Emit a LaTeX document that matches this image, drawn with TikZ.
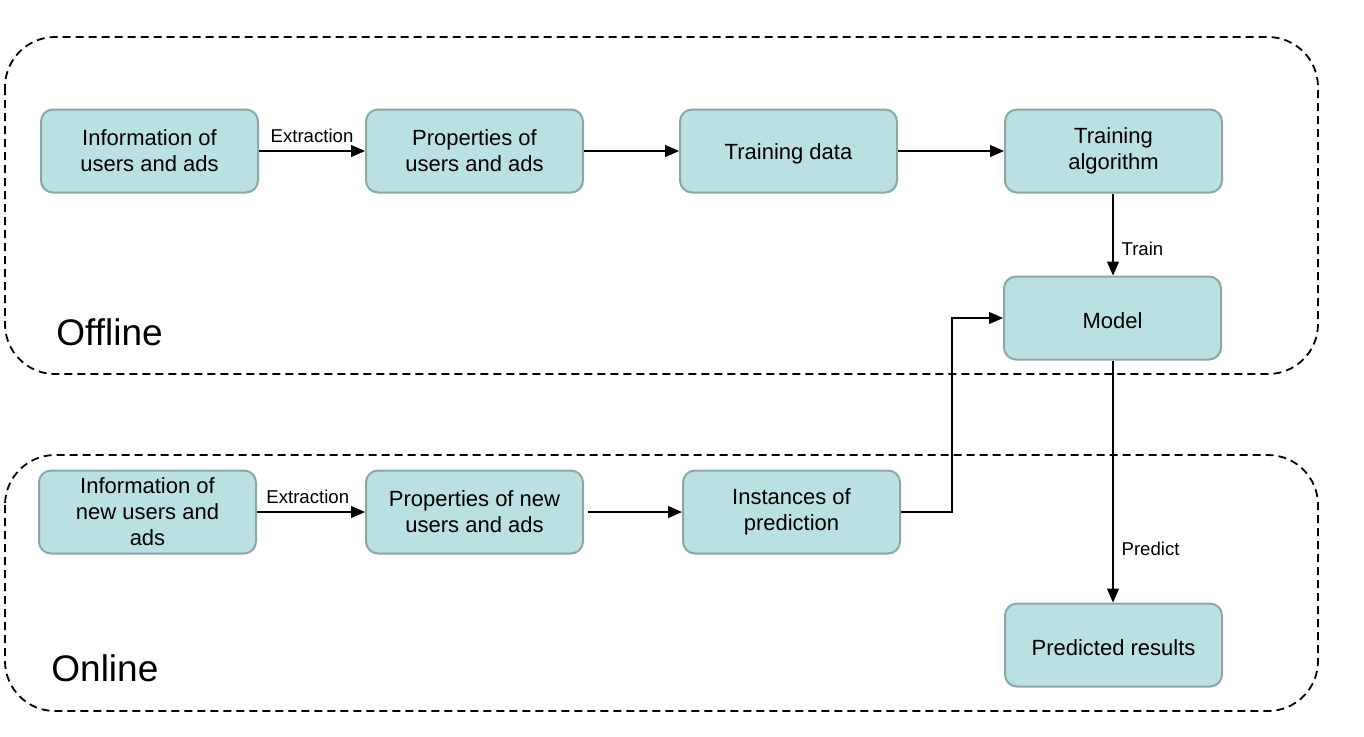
\documentclass[tikz,border=0pt]{standalone}
\usepackage{fontspec}
\setmainfont{Liberation Sans}
\usetikzlibrary{arrows.meta}
\definecolor{boxfill}{HTML}{BAE0E2}
\definecolor{boxline}{HTML}{8AA6A8}
\begin{document}
\begin{tikzpicture}[x=0.5pt,y=-0.5pt,
  proc/.style={draw=boxline,line width=1pt,fill=boxfill,rounded corners=6pt,
    minimum width=108.5pt,minimum height=41.5pt,inner sep=0pt,align=center,
    font=\fontsize{11}{13}\selectfont,execute at begin node={\rule{0pt}{11pt}}},
  region/.style={draw=black,line width=0.9pt,dash pattern=on 4pt off 2.5pt,rounded corners=25pt},
  conn/.style={draw=black,line width=0.6pt,-{Triangle[length=7pt,width=6pt]}},
  lbl/.style={font=\fontsize{9.3}{11}\selectfont,inner sep=1pt},
  big/.style={font=\fontsize{18.5}{22}\selectfont,inner sep=0pt}]
\useasboundingbox (0,0) rectangle (1364,736);
\draw[region] (5,37) rectangle (1318,374);
\draw[region] (5,455) rectangle (1318,711);
\node[big,anchor=west] (off) at (56,332) {Offline};
\node[big,anchor=west] (on) at (51,668) {Online};
\node[proc] (info) at (149.5,151) {Information of\\users and ads};
\node[proc] (prop) at (474.5,151) {Properties of\\users and ads};
\node[proc] (train) at (788.5,151) {Training data};
\node[proc] (algo) at (1113.5,151) {Training\\algorithm};
\node[proc] (model) at (1112.5,318) {Model};
\node[proc] (ninfo) at (147.5,512) {Information of\\new users and\\ads};
\node[proc] (nprop) at (474.5,512) {Properties of new\\users and ads};
\node[proc] (inst) at (791.5,512) {Instances of\\prediction};
\node[proc] (pred) at (1113.5,645) {Predicted results};
\draw[conn] (info) -- node[lbl,above,yshift=3pt] {Extraction} (prop);
\draw[conn] (prop) -- (train);
\draw[conn] (train) -- (algo);
\draw[conn] (algo.south -| 1113,0) -- node[lbl,right,pos=0.68,xshift=3pt] {Train} (model.north -| 1113,0);
\draw[conn] (ninfo) -- node[lbl,above,pos=0.47,yshift=3pt] {Extraction} (nprop);
\draw[conn] ([xshift=2pt]nprop.east) -- (inst);
\draw[conn] (inst.east) -| (952,420) |- (model.west);
\draw[conn] (model.south -| 1113,0) -- node[lbl,right,pos=0.78,xshift=3pt] {Predict} (pred.north -| 1113,0);
\end{tikzpicture}
\end{document}
